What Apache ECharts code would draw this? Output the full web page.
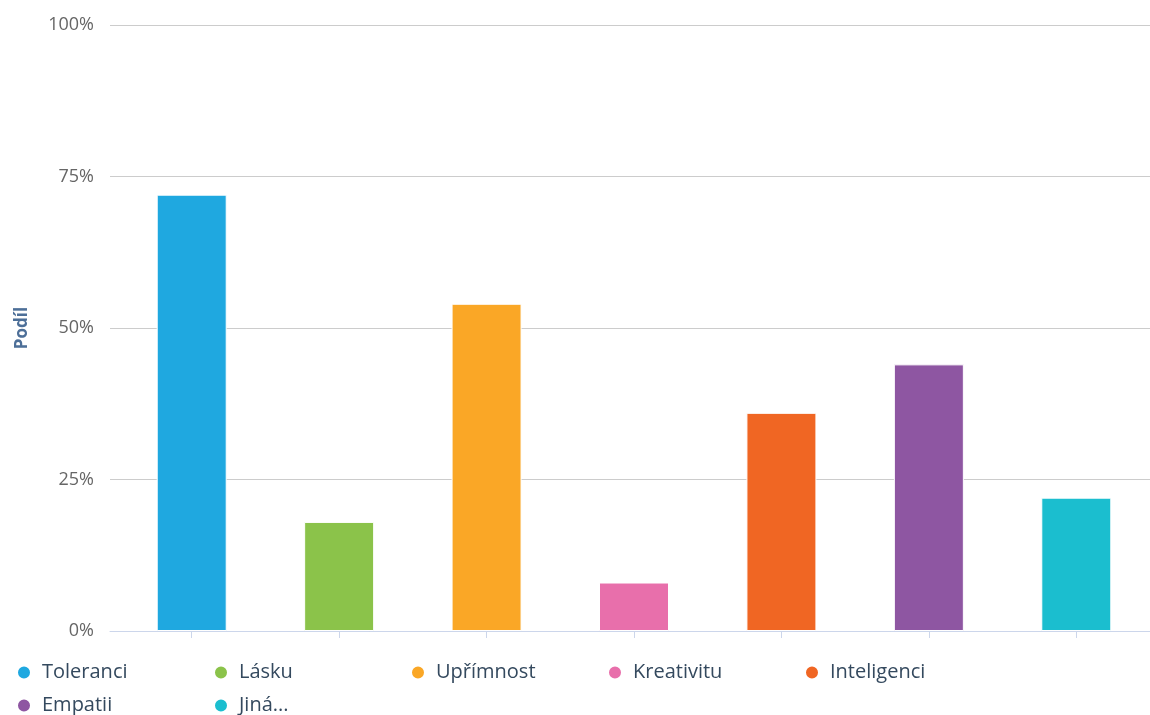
<!DOCTYPE html>
<html>
<head>
<meta charset="utf-8">
<script src="https://cdn.jsdelivr.net/npm/echarts@6/dist/echarts.min.js"></script>
<style>
html,body{margin:0;padding:0;background:#fff;}
#chart{width:1150px;height:715px;}
</style>
</head>
<body>
<div id="chart"></div>
<script>
const categories = ['Toleranci', 'Lásku', 'Upřímnost', 'Kreativitu', 'Inteligenci', 'Empatii', 'Jiná...'];
const values = [72, 18, 54, 8, 36, 44, 22];
const colors = ['#1fa8e0', '#8bc34a', '#faa726', '#e86fab', '#f06623', '#8e56a2', '#1bbecf'];
const yTicks = [0, 25, 50, 75, 100];

const FONT = '"Open Sans", "Noto Sans", sans-serif';
const chart = echarts.init(document.getElementById('chart'));

const series = categories.map((name, i) => ({
  name: name,
  type: 'bar',
  xAxisIndex: 1,
  yAxisIndex: 1,
  stack: 'all',
  barWidth: 70,
  data: categories.map((c, j) => (j === i ? values[i] : '-')),
  itemStyle: { color: colors[i], borderColor: '#ffffff', borderWidth: 1 },
  emphasis: { disabled: true }
}));

chart.setOption({
  animation: false,
  color: colors,
  grid: [
    { left: 110, right: 0, top: 25, bottom: 84, containLabel: false },
    { left: 118, right: -3, top: 25, bottom: 84, containLabel: false }
  ],
  xAxis: [
    {
      gridIndex: 0, type: 'category', data: categories, z: 5,
      axisLine: { show: true, lineStyle: { color: '#ccd6eb', width: 1 } },
      axisTick: { show: false }, axisLabel: { show: false }, splitLine: { show: false }
    },
    {
      gridIndex: 1, type: 'category', data: categories,
      axisLine: { show: false },
      axisTick: { show: true, alignWithLabel: true, length: 7, lineStyle: { color: '#ccd6eb' } },
      axisLabel: { show: false }, splitLine: { show: false }
    }
  ],
  yAxis: [
    {
      gridIndex: 0, type: 'value', min: yTicks[0], max: yTicks[yTicks.length - 1], interval: 25, z: 0,
      name: 'Podíl', nameLocation: 'middle', nameGap: 79,
      nameTextStyle: { fontFamily: FONT, fontSize: 17, fontWeight: 'bold', color: '#4d6f98' },
      axisLine: { show: false }, axisTick: { show: false },
      axisLabel: { formatter: '{value}%', fontFamily: FONT, fontSize: 18, color: '#666666', margin: 16 },
      splitLine: { show: true, lineStyle: { color: '#cccccc', width: 1 } }
    },
    {
      gridIndex: 1, type: 'value', min: yTicks[0], max: yTicks[yTicks.length - 1], show: false,
      splitLine: { show: false }
    }
  ],
  legend: {
    data: categories,
    icon: 'circle',
    left: 16,
    top: 662,
    width: 1020,
    itemWidth: 14,
    itemHeight: 14,
    itemGap: 12,
    padding: 0,
    formatter: '{a|{name}}',
    textStyle: {
      fontFamily: FONT, fontSize: 20, color: '#34495e',
      rich: { a: { fontFamily: FONT, fontSize: 20, color: '#34495e', width: 159, height: 21, lineHeight: 21, padding: [0, 0, 0, 6] } }
    }
  },
  series: series
});
</script>
</body>
</html>
